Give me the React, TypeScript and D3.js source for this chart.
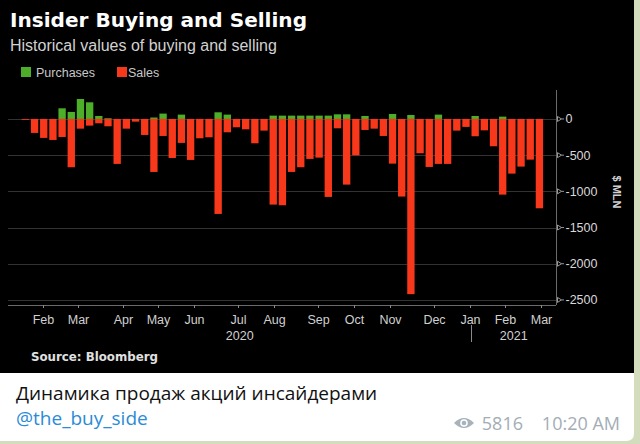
import React from "react";
import * as d3 from "d3";

// Weekly insider purchases (positive) and sales (negative), $ MLN
const purchases = [0, 0, 0, 0, 147, 97, 276, 230, 41, 10, 0, 0, 0, 0, 20, 74, 0, 60, 0, 0, 0, 92, 60, 0, 0, 0, 0, 46, 46, 46, 46, 46, 46, 46, 64, 64, 0, 41, 0, 0, 69, 0, 55, 0, 0, 60, 0, 0, 0, 41, 0, 0, 32, 0, 0, 0, 0];
const sales = [-12, -193, -262, -290, -249, -667, -134, -92, -60, -101, -621, -134, -37, -221, -732, -235, -539, -331, -566, -267, -253, -1312, -184, -115, -143, -336, -161, -1183, -1192, -732, -667, -552, -534, -1077, -129, -907, -502, -152, -134, -235, -617, -1072, -2420, -474, -663, -621, -621, -161, -110, -239, -157, -377, -1045, -755, -658, -562, -1234];

const monthTicks = ["2020-02-03", "2020-03-02", "2020-04-06", "2020-05-04", "2020-06-01", "2020-07-06", "2020-08-03", "2020-09-07", "2020-10-05", "2020-11-02", "2020-12-07", "2021-01-04", "2021-02-01", "2021-03-01"];
const monthLabels = ["Feb", "Mar", "Apr", "May", "Jun", "Jul", "Aug", "Sep", "Oct", "Nov", "Dec", "Jan", "Feb", "Mar"];
const yTicks = [0, -500, -1000, -1500, -2000, -2500];
const yearLabels = ["2020", "2021"];
const yearBreak = "2021-01-04";

const RED = "#f7381b";
const GREEN = "#4cae29";

export default function App() {
  const W = 640, H = 444;
  const idx = d3.range(sales.length);
  const x = d3.scaleBand<number>().domain(idx).range([20.8, 544.0]).paddingInner(0.2).paddingOuter(0.1);
  const parse = d3.timeParse("%Y-%m-%d");
  const tDates = monthTicks.map((d) => parse(d) as Date);
  const xt = d3.scaleTime().domain([tDates[0], tDates[tDates.length - 1]]).range([42.5, 541]);
  const y = d3.scaleLinear().domain([-2570, 400]).range([305, 90]);
  const plotLeft = 8, plotRight = 556;
  const breakX = Math.round(xt(parse(yearBreak) as Date)) + 1.5;
  const sans = "Liberation Sans, Arial, sans-serif";

  return (
    <svg width={W} height={H} style={{ position: "absolute", left: 0, top: 0 }} xmlns="http://www.w3.org/2000/svg">
      <rect x={0} y={0} width={W} height={H} fill="#d3ddbe" />
      <rect x={0} y={0} width={634} height={373} fill="#000" />
      <path d={`M0,373 H634 V433 Q634,441 626,441 H0 Z`} fill="#fff" />

      {/* Title */}
      <text x={10} y={27} fill="#fff" fontFamily="DejaVu Sans" fontWeight="bold" fontSize={19} textLength={297} lengthAdjust="spacingAndGlyphs">Insider Buying and Selling</text>
      <text x={10} y={51} fill="#d2d2d2" fontFamily={sans} fontSize={16}>Historical values of buying and selling</text>

      {/* Legend */}
      <rect x={21} y={67} width={10} height={10} fill={GREEN} />
      <text x={36} y={77} fill="#c8c8c8" fontFamily={sans} fontSize={12.5}>Purchases</text>
      <rect x={117} y={67} width={10} height={10} fill={RED} />
      <text x={128} y={77} fill="#c8c8c8" fontFamily={sans} fontSize={12.5}>Sales</text>

      {/* Gridlines */}
      {yTicks.map((t) => (
        <line key={t} x1={plotLeft} x2={plotRight} y1={Math.round(y(t)) + 0.5} y2={Math.round(y(t)) + 0.5} stroke="#333" strokeWidth={1} />
      ))}

      {/* Bars */}
      {idx.map((i) => (
        <g key={i}>
          {purchases[i] > 0 && (
            <rect x={x(i)} width={x.bandwidth()} y={y(purchases[i])} height={y(0) - y(purchases[i])} fill={GREEN} />
          )}
          <rect x={x(i)} width={x.bandwidth()} y={y(0)} height={y(sales[i]) - y(0)} fill={RED} />
        </g>
      ))}

      {/* Y axis */}
      <line x1={plotRight + 0.5} x2={plotRight + 0.5} y1={90} y2={305} stroke="#6a6a6a" />
      {yTicks.map((t) => {
        const yy = y(t);
        return (
          <g key={t}>
            <path d={`M557.5,${yy - 2.5} L561.5,${yy} L557.5,${yy + 2.5} Z`} fill="none" stroke="#bdbdbd" strokeWidth={0.8} />
            <line x1={561.5} x2={564} y1={yy} y2={yy} stroke="#bdbdbd" strokeWidth={0.8} />
            <text x={565.5} y={yy} dy="0.35em" fill="#d8d8d8" fontFamily={sans} fontSize={12.5}>{t}</text>
          </g>
        );
      })}
      <text transform="translate(613,192) rotate(90)" textAnchor="middle" fill="#d0d0d0" fontFamily={sans} fontWeight="bold" fontSize={11}>$ MLN</text>

      {/* X axis */}
      <line x1={plotLeft} x2={plotRight} y1={305.5} y2={305.5} stroke="#6a6a6a" />
      {tDates.map((d, i) => {
        const xx = Math.round(xt(d)) + 0.5;
        return (
          <g key={i}>
            <line x1={xx} x2={xx} y1={305} y2={308} stroke="#8a8a8a" />
            <text x={xx} y={323.5} textAnchor="middle" fill="#d0d0d0" fontFamily={sans} fontSize={12.5}>{monthLabels[i]}</text>
          </g>
        );
      })}
      <line x1={breakX} x2={breakX} y1={325} y2={342} stroke="#8a8a8a" />
      <text x={(plotLeft + breakX) / 2} y={340} textAnchor="middle" fill="#d0d0d0" fontFamily={sans} fontSize={12.5}>{yearLabels[0]}</text>
      <text x={(breakX + plotRight) / 2} y={340} textAnchor="middle" fill="#d0d0d0" fontFamily={sans} fontSize={12.5}>{yearLabels[1]}</text>

      <text x={31} y={361} fill="#e0e0e0" fontFamily="DejaVu Sans" fontWeight="bold" fontSize={11.5} textLength={127} lengthAdjust="spacingAndGlyphs">Source: Bloomberg</text>

      {/* Caption */}
      <text x={16} y={399.5} fill="#111" fontFamily="Open Sans, sans-serif" fontSize={19}>Динамика продаж акций инсайдерами</text>
      <text x={16} y={425} fill="#2b8bd6" fontFamily="Open Sans, sans-serif" fontSize={19}>@the_buy_side</text>
      <g transform="translate(464,423)">
        <path d="M-10,0 Q0,-10 10,0 Q0,10 -10,0 Z" fill="#a8b2ba" />
        <circle cx={0} cy={0} r={3.8} fill="#fff" />
        <circle cx={0} cy={0} r={2.3} fill="#a8b2ba" />
      </g>
      <text x={523} y={429.5} textAnchor="end" fill="#a3adb5" fontFamily="Open Sans, sans-serif" fontSize={18}>5816</text>
      <text x={620} y={429.5} textAnchor="end" fill="#a3adb5" fontFamily="Open Sans, sans-serif" fontSize={18}>10:20 AM</text>
    </svg>
  );
}
